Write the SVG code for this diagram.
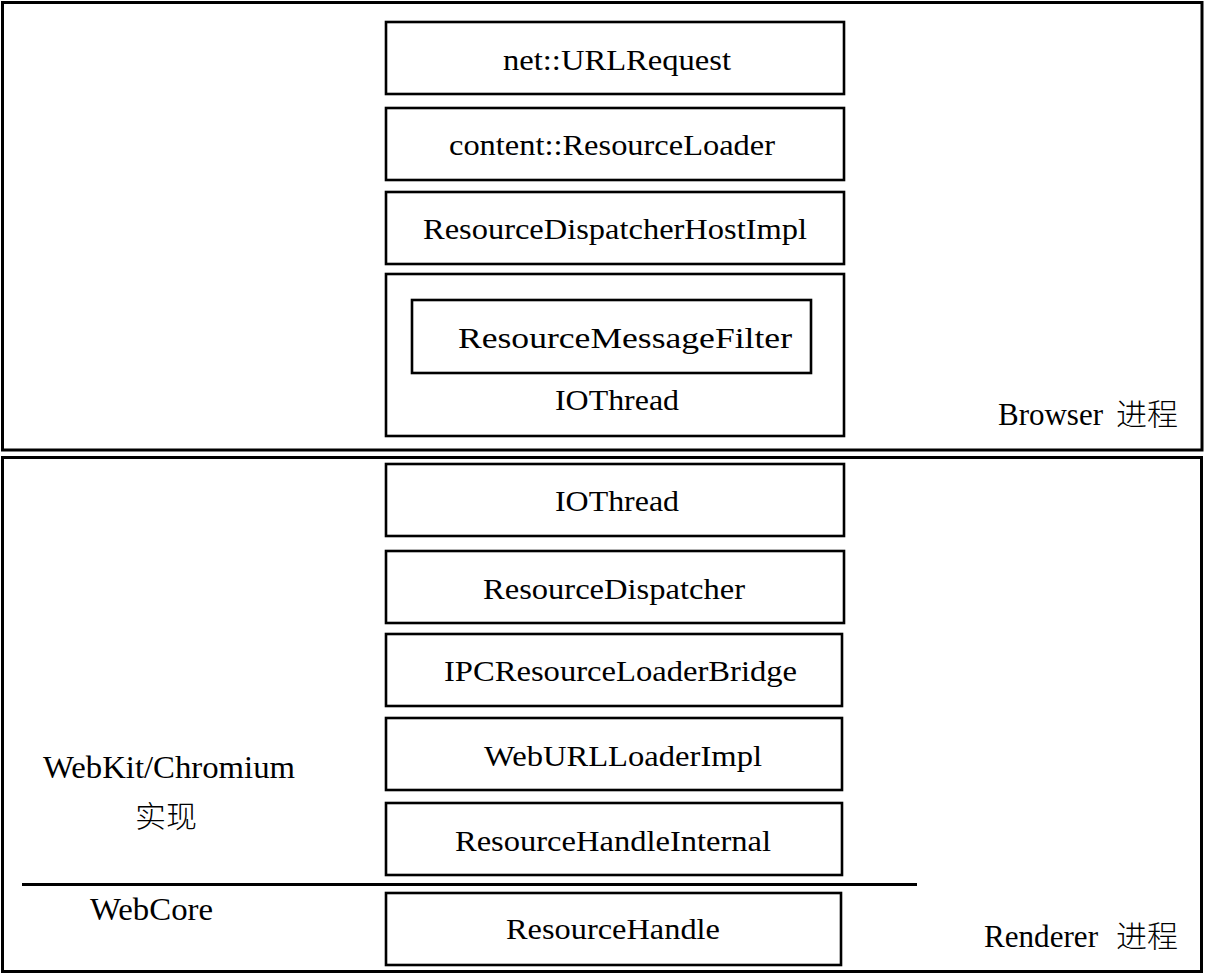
<svg xmlns="http://www.w3.org/2000/svg" width="1206" height="975" viewBox="0 0 1206 975">
<style>
.frame{fill:none;stroke:#000;stroke-width:3}
.box{fill:#fff;stroke:#000;stroke-width:2.6}
.t{font-family:"Liberation Serif","Times New Roman",serif;font-size:30px;fill:#000}
.lbl{font-size:32px}
.cjk{font-family:"Noto Sans CJK SC","Noto Sans CJK TC",sans-serif;font-weight:300;font-size:30px;fill:#000}
</style>
<rect width="1206" height="975" fill="#fff"/>
<g id="browser-process">
<rect class="frame" x="2.5" y="2.5" width="1199.5" height="447.5"/>
<text class="t lbl" x="998" y="425" textLength="105" lengthAdjust="spacingAndGlyphs">Browser</text>
<text class="cjk" x="1116" y="425" textLength="62" lengthAdjust="spacingAndGlyphs">进程</text>
</g>
<g id="renderer-process">
<rect class="frame" x="2.5" y="457.5" width="1199" height="514"/>
<text class="t lbl" x="984" y="947" textLength="114" lengthAdjust="spacingAndGlyphs">Renderer</text>
<text class="cjk" x="1116" y="947" textLength="62" lengthAdjust="spacingAndGlyphs">进程</text>
</g>
<g id="net-urlrequest">
<rect class="box" x="386" y="22" width="458" height="72"/>
<text class="t" x="503" y="70" textLength="228" lengthAdjust="spacingAndGlyphs">net::URLRequest</text>
</g>
<g id="content-resourceloader">
<rect class="box" x="386" y="108" width="458" height="72"/>
<text class="t" x="449" y="155" textLength="326" lengthAdjust="spacingAndGlyphs">content::ResourceLoader</text>
</g>
<g id="resourcedispatcherhostimpl">
<rect class="box" x="386" y="192" width="458" height="72"/>
<text class="t" x="423" y="239" textLength="384" lengthAdjust="spacingAndGlyphs">ResourceDispatcherHostImpl</text>
</g>
<g id="browser-iothread">
<rect class="box" x="386" y="274" width="458" height="162"/>
<text class="t" x="555" y="410" textLength="124" lengthAdjust="spacingAndGlyphs">IOThread</text>
</g>
<g id="resourcemessagefilter">
<rect class="box" x="412" y="300" width="399" height="73"/>
<text class="t" x="458" y="348" textLength="334" lengthAdjust="spacingAndGlyphs">ResourceMessageFilter</text>
</g>
<g id="renderer-iothread">
<rect class="box" x="386" y="464" width="458" height="72"/>
<text class="t" x="555" y="511" textLength="124" lengthAdjust="spacingAndGlyphs">IOThread</text>
</g>
<g id="resourcedispatcher">
<rect class="box" x="386" y="551" width="458" height="72"/>
<text class="t" x="483" y="599" textLength="262" lengthAdjust="spacingAndGlyphs">ResourceDispatcher</text>
</g>
<g id="ipcresourceloaderbridge">
<rect class="box" x="386" y="634" width="456" height="72"/>
<text class="t" x="444" y="681" textLength="353" lengthAdjust="spacingAndGlyphs">IPCResourceLoaderBridge</text>
</g>
<g id="weburlloaderimpl">
<rect class="box" x="386" y="718" width="456" height="72"/>
<text class="t" x="484" y="766" textLength="278" lengthAdjust="spacingAndGlyphs">WebURLLoaderImpl</text>
</g>
<g id="resourcehandleinternal">
<rect class="box" x="386" y="803" width="456" height="72"/>
<text class="t" x="455" y="851" textLength="316" lengthAdjust="spacingAndGlyphs">ResourceHandleInternal</text>
</g>
<g id="resourcehandle">
<rect class="box" x="386" y="893" width="455" height="72"/>
<text class="t" x="506" y="939" textLength="214" lengthAdjust="spacingAndGlyphs">ResourceHandle</text>
</g>
<g id="layer-labels">
<text class="t lbl" x="43" y="778" textLength="252" lengthAdjust="spacingAndGlyphs">WebKit/Chromium</text>
<text class="cjk" x="135" y="827" textLength="62" lengthAdjust="spacingAndGlyphs">实现</text>
<text class="t lbl" x="90" y="920" textLength="123" lengthAdjust="spacingAndGlyphs">WebCore</text>
</g>
<g id="connectors">
<line x1="22" y1="884.5" x2="917" y2="884.5" stroke="#000" stroke-width="3"/>
</g>
</svg>
